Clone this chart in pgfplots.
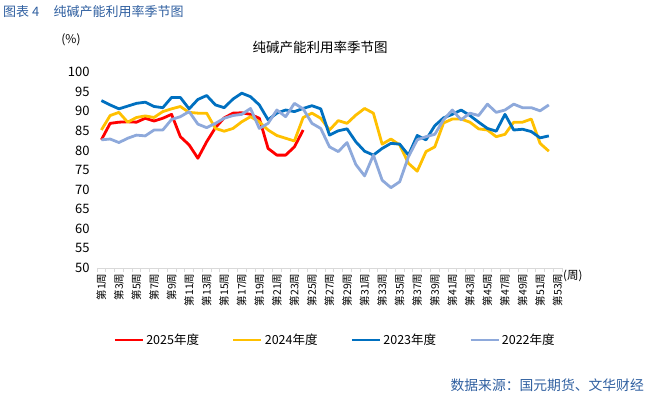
\documentclass[border=0pt]{standalone}
\usepackage{pgfplots}
\pgfplotsset{compat=1.18}
\usepackage{fontspec}
\setmainfont{Noto Sans CJK SC}
\definecolor{c25}{RGB}{255,0,0}
\definecolor{c24}{RGB}{255,192,0}
\definecolor{c23}{RGB}{0,112,192}
\definecolor{c22}{RGB}{142,169,219}
\definecolor{capblue}{RGB}{47,95,160}
\definecolor{axgray}{RGB}{217,217,217}
\begin{document}
\begin{tikzpicture}
\begin{axis}[
  width=465pt, height=196pt, scale only axis,
  xmin=0.5, xmax=53.5, ymin=50, ymax=100,
  axis x line=bottom, axis y line=left,
  x axis line style={-, draw=axgray, line width=0.8pt},
  y axis line style={draw=none},
  ytick={50,55,...,100},
  ytick style={draw=none},
  yticklabel style={font=\fontsize{13}{15}\selectfont, xshift=-2pt},
  /pgf/number format/assume math mode=true,
  xtick={1,3,...,53},
  xticklabels={第1周,第3周,第5周,第7周,第9周,第11周,第13周,第15周,第17周,第19周,第21周,第23周,第25周,第27周,第29周,第31周,第33周,第35周,第37周,第39周,第41周,第43周,第45周,第47周,第49周,第51周,第53周},
  major x tick style={draw=none},
  minor xtick={0.5,1.5,...,53.5},
  minor x tick style={draw=axgray, line width=0.8pt},
  tick align=outside,
  minor tick length=4pt,
  major tick length=2pt,
  xticklabel style={rotate=90, anchor=east, font=\fontsize{10.5}{12}\selectfont},
  legend columns=4,
  legend style={at={(0.512,-0.367)}, anchor=center, draw=none, fill=none,
    font=\fontsize{12.5}{14}\selectfont,
    /tikz/every even column/.append style={column sep=31pt}},
  legend image code/.code={\draw[#1] (0pt,0pt) -- (28pt,0pt);},
  every axis plot/.append style={line width=2.8pt, line join=round},
  clip=false,
]
\coordinate (O) at (rel axis cs:0,0);
\addplot[c25] coordinates {
(1,82.7)(2,86.9)(3,87.2)(4,87.3)(5,87.2)(6,88.2)(7,87.5)(8,88.2)(9,89.2)(10,83.5)
(11,81.4)(12,78.0)(13,82.2)(14,85.8)(15,88.3)(16,89.5)(17,89.6)(18,89.2)(19,88.2)(20,80.5)
(21,78.8)(22,78.8)(23,80.9)(24,85.2)};
\addlegendentry{2025年度}
\addplot[c24] coordinates {
(1,85.2)(2,88.9)(3,89.7)(4,87.2)(5,88.4)(6,88.8)(7,88.4)(8,89.9)(9,90.6)(10,91.2)
(11,89.7)(12,89.5)(13,89.5)(14,85.6)(15,84.9)(16,85.6)(17,87.3)(18,88.6)(19,87.3)(20,85.2)
(21,83.8)(22,83.1)(23,82.4)(24,88.4)(25,89.5)(26,88.2)(27,85.2)(28,87.6)(29,86.9)(30,89.0)
(31,90.7)(32,89.5)(33,81.6)(34,82.9)(35,81.4)(36,76.7)(37,74.7)(38,79.7)(39,80.9)(40,87.0)
(41,88.0)(42,88.0)(43,87.2)(44,85.5)(45,85.2)(46,83.5)(47,84.1)(48,87.2)(49,87.2)(50,88.0)
(51,81.8)(52,79.8)};
\addlegendentry{2024年度}
\addplot[c23] coordinates {
(1,92.7)(2,91.6)(3,90.6)(4,91.3)(5,92.0)(6,92.3)(7,91.2)(8,90.9)(9,93.5)(10,93.5)
(11,90.6)(12,93.0)(13,94.0)(14,91.6)(15,90.9)(16,93.1)(17,94.6)(18,93.7)(19,91.6)(20,87.8)
(21,89.5)(22,90.3)(23,89.9)(24,90.7)(25,91.4)(26,90.6)(27,83.9)(28,85.0)(29,85.5)(30,82.2)
(31,79.8)(32,78.8)(33,80.5)(34,81.8)(35,81.6)(36,78.8)(37,83.8)(38,82.7)(39,86.3)(40,88.3)
(41,89.2)(42,90.3)(43,88.9)(44,87.2)(45,85.6)(46,84.9)(47,89.2)(48,85.2)(49,85.4)(50,84.8)
(51,83.2)(52,83.7)};
\addlegendentry{2023年度}
\addplot[c22] coordinates {
(1,82.7)(2,82.9)(3,82.0)(4,83.1)(5,83.9)(6,83.7)(7,85.2)(8,85.2)(9,87.9)(10,88.6)
(11,89.9)(12,86.7)(13,85.8)(14,86.9)(15,88.2)(16,88.9)(17,89.2)(18,90.7)(19,85.6)(20,86.9)
(21,90.3)(22,88.6)(23,92.0)(24,90.6)(25,86.9)(26,85.6)(27,80.9)(28,79.7)(29,82.0)(30,76.4)
(31,73.5)(32,78.8)(33,72.4)(34,70.5)(35,72.0)(36,78.4)(37,82.7)(38,83.5)(39,84.1)(40,87.8)
(41,90.3)(42,87.8)(43,89.5)(44,88.9)(45,91.8)(46,89.7)(47,90.3)(48,91.8)(49,90.9)(50,90.9)
(51,90.1)(52,91.6)};
\addlegendentry{2022年度}
\node[anchor=west, font=\fontsize{11.5}{13}\selectfont, inner sep=0] at (rel axis cs:1,0) [yshift=-8pt, xshift=1pt] {(周)};
\end{axis}
\pgfresetboundingbox
\path[use as bounding box] ([shift={(-97pt,-126pt)}]O) rectangle ([shift={(558pt,268pt)}]O);
\node[anchor=west, text=capblue, font=\fontsize{13}{14}\selectfont, inner sep=0] at ([shift={(-94pt,256pt)}]O) {图表 4\hspace{1.1em}纯碱产能利用率季节图};
\node[font=\fontsize{13.5}{15}\selectfont, inner sep=0] at ([shift={(223pt,221pt)}]O) {纯碱产能利用率季节图};
\node[font=\fontsize{12}{14}\selectfont, inner sep=0] at ([shift={(-26pt,228pt)}]O) {(\%)};
\node[anchor=east, text=capblue, font=\fontsize{13.8}{15}\selectfont, inner sep=0] at ([shift={(547pt,-117pt)}]O) {数据来源：国元期货、文华财经};
\end{tikzpicture}
\end{document}
